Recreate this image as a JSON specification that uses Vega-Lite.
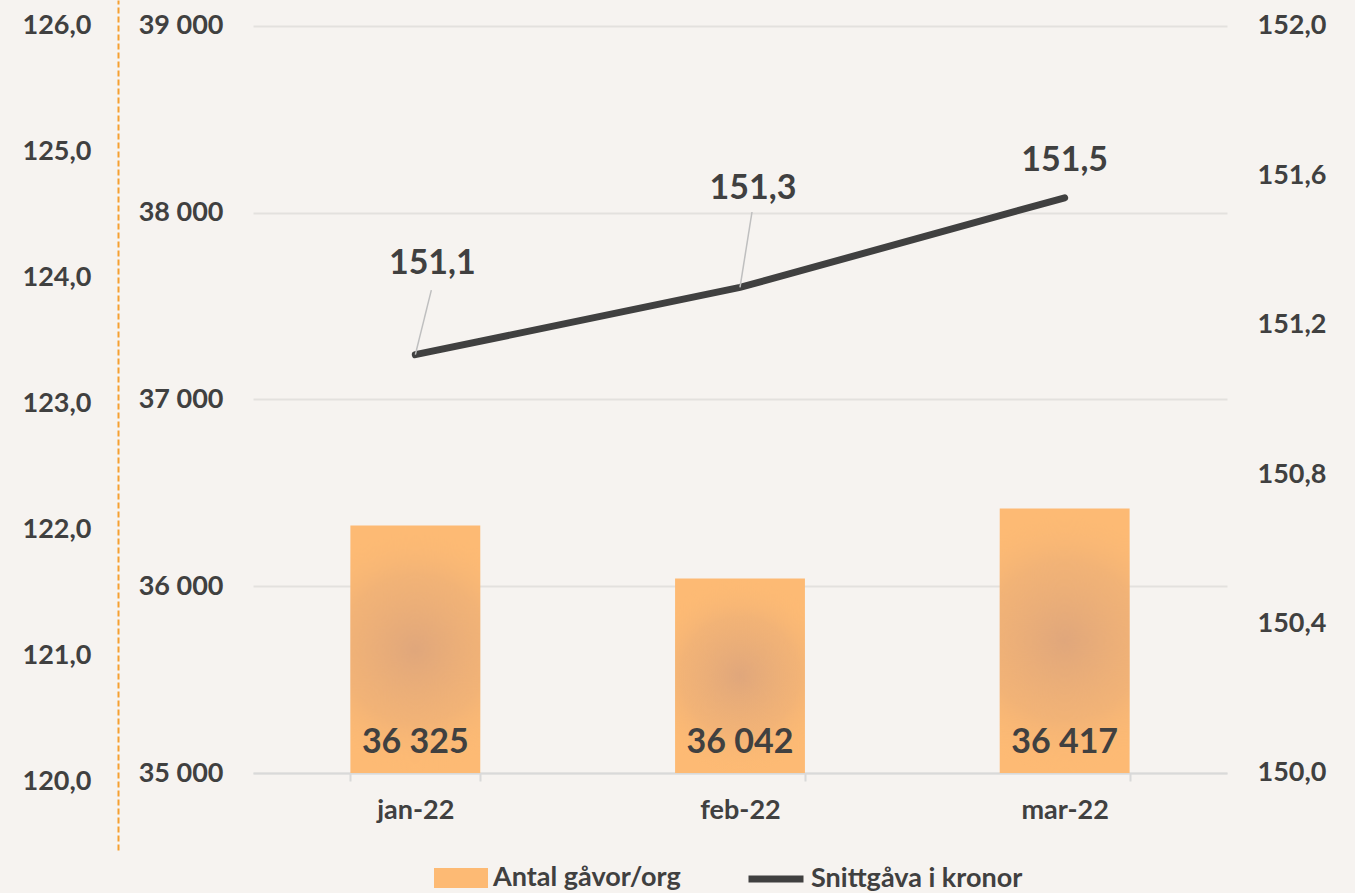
{
  "$schema": "https://vega.github.io/schema/vega-lite/v6.json",
  "width": 974,
  "height": 850,
  "autosize": {"type": "none"},
  "padding": {"left": 253, "top": 0, "right": 128, "bottom": 43},
  "background": "#F6F3F0",
  "config": {
    "view": {"stroke": null},
    "font": "Lato",
    "locale": {"number": {"decimal": ",", "thousands": " ", "grouping": [3], "currency": ["", " kr"]}},
    "axis": {"labelFont": "Lato", "labelFontWeight": "bold", "labelFontSize": 27, "labelColor": "#404040", "title": null},
    "legend": {"labelFont": "Lato", "labelFontWeight": "bold", "labelFontSize": 27, "labelColor": "#404040", "title": null, "labelLimit": 400}
  },
  "data": {"values": [
    {"month": "jan-22", "antal": 36325, "snitt": 151.12},
    {"month": "feb-22", "antal": 36042, "snitt": 151.30},
    {"month": "mar-22", "antal": 36417, "snitt": 151.54}
  ]},
  "layer": [
    {
      "encoding": {
        "x": {"field": "month", "type": "nominal", "sort": null,
          "scale": {"paddingInner": 0.6, "paddingOuter": 0.3},
          "axis": {"offset": -77, "domainColor": "#D9D9D9", "domainWidth": 2, "tickColor": "#D9D9D9", "tickWidth": 2, "tickSize": 8, "tickBand": "extent", "labelAngle": 0, "labelPadding": 16, "grid": false}}
      },
      "layer": [
        {
          "mark": {"type": "bar"},
          "encoding": {
            "y": {"field": "antal", "type": "quantitative",
              "scale": {"domain": [34587.7, 39139.2], "nice": false, "zero": false},
              "axis": {"orient": "left", "values": [35000, 36000, 37000, 38000, 39000], "format": ",.0f", "grid": true, "gridColor": "#E3E1DE", "gridWidth": 2, "domain": false, "ticks": false, "labelPadding": 30}},
            "y2": {"datum": 35000},
            "fill": {"datum": "Antal gåvor/org", "type": "nominal", "scale": {"range": ["#FDBA74"]},
              "legend": {"orient": "none", "legendX": 181, "legendY": 851, "symbolType": "M-1,-0.37H1V0.37H-1Z", "symbolSize": 2916, "symbolStrokeWidth": 0, "labelOffset": 5}}
          }
        },
        {
          "mark": {"type": "bar", "fill": {"gradient": "radial", "x1": 0.5, "y1": 0.5, "x2": 0.5, "y2": 0.5, "r1": 0, "r2": 0.5,
            "stops": [{"offset": 0, "color": "rgba(214,160,126,0.75)"}, {"offset": 0.6, "color": "rgba(225,168,122,0.4)"}, {"offset": 1, "color": "rgba(253,187,116,0)"}]}},
          "encoding": {
            "y": {"field": "antal", "type": "quantitative"},
            "y2": {"datum": 35000}
          }
        },
        {
          "mark": {"type": "text", "font": "Lato", "fontWeight": "bold", "fontSize": 34, "color": "#404040", "baseline": "alphabetic", "dy": -20},
          "encoding": {
            "y": {"datum": 35000, "type": "quantitative"},
            "text": {"field": "antal", "type": "quantitative", "format": ",.0f"}
          }
        }
      ]
    },
    {
      "encoding": {
        "x": {"field": "month", "type": "nominal", "sort": null}
      },
      "layer": [
        {
          "mark": {"type": "line", "strokeWidth": 7, "strokeCap": "round"},
          "encoding": {
            "y": {"field": "snitt", "type": "quantitative",
              "scale": {"domain": [149.7938, 152.0696], "nice": false, "zero": false},
              "axis": {"orient": "right", "values": [150, 150.4, 150.8, 151.2, 151.6, 152], "format": ".1f", "grid": false, "domain": false, "ticks": false, "labelPadding": 30}},
            "stroke": {"datum": "Snittgåva i kronor", "type": "nominal", "scale": {"range": ["#404040"]},
              "legend": {"orient": "none", "legendX": 492, "legendY": 848, "symbolType": "stroke", "symbolSize": 3025, "symbolStrokeWidth": 7, "labelOffset": 4}}
          }
        },
        {
          "transform": [{"filter": "datum.month == 'jan-22'"}],
          "mark": {"type": "rule", "color": "#BFBFBF", "strokeWidth": 1.5, "x2Offset": 16},
          "encoding": {
            "x2": {"field": "month", "bandPosition": 0.5},
            "y": {"field": "snitt", "type": "quantitative"},
            "y2": {"datum": 151.293}
          }
        },
        {
          "transform": [{"filter": "datum.month == 'feb-22'"}],
          "mark": {"type": "rule", "color": "#BFBFBF", "strokeWidth": 1.5, "x2Offset": 12},
          "encoding": {
            "x2": {"field": "month", "bandPosition": 0.5},
            "y": {"field": "snitt", "type": "quantitative"},
            "y2": {"datum": 151.502}
          }
        },
        {
          "transform": [{"filter": "datum.month == 'jan-22'"}],
          "mark": {"type": "text", "font": "Lato", "fontWeight": "bold", "fontSize": 34, "color": "#404040", "baseline": "alphabetic", "dx": 17, "dy": -81},
          "encoding": {
            "y": {"field": "snitt", "type": "quantitative"},
            "text": {"field": "snitt", "type": "quantitative", "format": ".1f"}
          }
        },
        {
          "transform": [{"filter": "datum.month == 'feb-22'"}],
          "mark": {"type": "text", "font": "Lato", "fontWeight": "bold", "fontSize": 34, "color": "#404040", "baseline": "alphabetic", "dx": 13, "dy": -88},
          "encoding": {
            "y": {"field": "snitt", "type": "quantitative"},
            "text": {"field": "snitt", "type": "quantitative", "format": ".1f"}
          }
        },
        {
          "transform": [{"filter": "datum.month == 'mar-22'"}],
          "mark": {"type": "text", "font": "Lato", "fontWeight": "bold", "fontSize": 34, "color": "#404040", "baseline": "alphabetic", "dx": 0, "dy": -27},
          "encoding": {
            "y": {"field": "snitt", "type": "quantitative"},
            "text": {"field": "snitt", "type": "quantitative", "format": ".1f"}
          }
        }
      ]
    },
    {
      "mark": {"type": "text", "text": ""},
      "encoding": {
        "y": {"datum": 123, "type": "quantitative",
          "scale": {"domain": [119.46, 126.206], "nice": false, "zero": false},
          "axis": {"orient": "left", "offset": 135, "values": [120, 121, 122, 123, 124, 125, 126], "format": ".1f", "grid": false, "domain": true, "domainColor": "#F5A031", "domainDash": [6, 3], "domainWidth": 2, "ticks": false, "labelPadding": 27}}
      }
    }
  ],
  "resolve": {"scale": {"y": "independent"}}
}
